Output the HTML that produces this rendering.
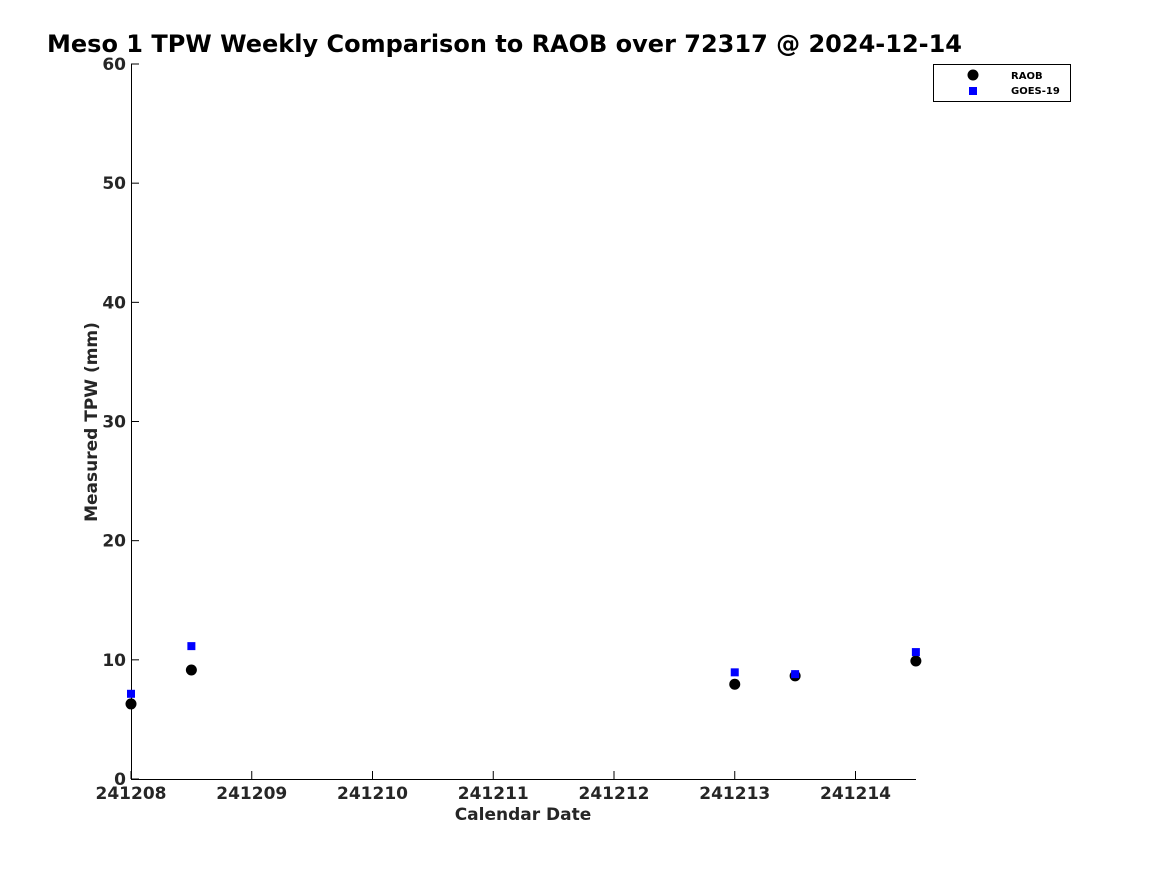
<!DOCTYPE html>
<html><head><meta charset="utf-8"><style>
body{margin:0;background:#fff;width:1167px;height:875px;overflow:hidden}
svg{font-family:"DejaVu Sans","Liberation Sans",sans-serif}
</style></head><body>
<svg id="chart" width="1167" height="875" viewBox="0 0 1167 875">
<text x="47" y="52" font-size="24" font-weight="bold" fill="#000">Meso 1 TPW Weekly Comparison to RAOB over 72317 @ 2024-12-14</text>
<g id="axes"></g>
<g id="marks"></g>
<text x="523" y="820" font-size="17" font-weight="bold" fill="#262626" text-anchor="middle">Calendar Date</text>
<text transform="translate(97,422) rotate(-90)" font-size="17" font-weight="bold" fill="#262626" text-anchor="middle">Measured TPW (mm)</text>
<g>
<rect x="933.5" y="64.5" width="137" height="37" fill="#fff" stroke="#000" stroke-width="1"/>
<circle cx="973" cy="75" r="5.5" fill="#000"/>
<rect x="969" y="87" width="8" height="8" fill="#0000ff"/>
<text x="1011" y="79" font-size="10" font-weight="bold" fill="#000">RAOB</text>
<text x="1011" y="94" font-size="10" font-weight="bold" fill="#000">GOES-19</text>
</g>
</svg>
<script>
const xDays=[0,0.5,5,5.5,6.5];
const raob=[6.3,9.15,7.95,8.65,9.9];
const goes=[7.15,11.15,8.95,8.8,10.65];
const xTickLabels=["241208","241209","241210","241211","241212","241213","241214"];
const yTicks=[0,10,20,30,40,50,60];
const ns="http://www.w3.org/2000/svg";
const X0=131,DAY=120.75,Y0=779,YS=(779-64)/60;
const sx=d=>X0+d*DAY, sy=v=>Y0-v*YS;
const axes=document.getElementById('axes'),marks=document.getElementById('marks');
function mk(tag,at,parent){const e=document.createElementNS(ns,tag);for(const k in at)e.setAttribute(k,at[k]);parent.appendChild(e);return e;}
const yl=mk('line',{x1:131.5,y1:64,x2:131.5,y2:779.5,stroke:'#000','stroke-width':1},axes);


const xl=mk('line',{x1:131,y1:779.5,x2:916,y2:779.5,stroke:'#000','stroke-width':1},axes);


yTicks.forEach(v=>{
 const y=sy(v);
 mk('line',{x1:131,y1:y,x2:139,y2:y,stroke:'#000'},axes);
 const t=mk('text',{x:126,y:y+6,'font-size':17,'font-weight':'bold',fill:'#262626','text-anchor':'end'},axes);
 t.textContent=v;
 
 
});
xTickLabels.forEach((l,i)=>{
 const x=sx(i);
 mk('line',{x1:x,y1:779,x2:x,y2:771,stroke:'#000'},axes);
 const t=mk('text',{x:x,y:799,'font-size':17,'font-weight':'bold',fill:'#262626','text-anchor':'middle'},axes);
 t.textContent=l;
 
 
});
raob.forEach((v,i)=>{
 const c=mk('circle',{cx:sx(xDays[i]),cy:sy(v),r:5.5,fill:'#000'},marks);
 
 
});
goes.forEach((v,i)=>{
 const r=mk('rect',{x:sx(xDays[i])-4,y:sy(v)-4,width:8,height:8,fill:'#0000ff'},marks);
 
 
});
</script>
</body></html>
